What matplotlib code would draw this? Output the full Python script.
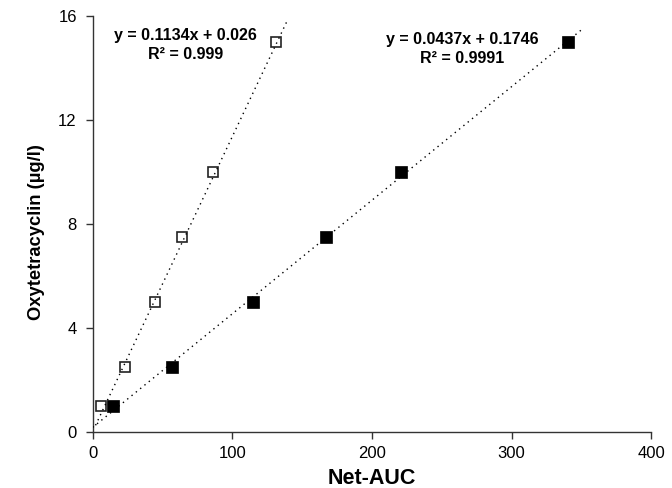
import matplotlib
matplotlib.use("Agg")
import matplotlib.pyplot as plt
import numpy as np

plt.rcParams['font.family'] = ['Liberation Sans', 'DejaVu Sans']

# open squares (series 1)
open_x = [5.7, 22.9, 44.4, 63.8, 86.0, 131.0]
open_y = [1.0, 2.5, 5.0, 7.5, 10.0, 15.0]
# filled squares (series 2)
fill_x = [14.3, 56.6, 114.7, 167.0, 220.8, 340.5]
fill_y = [1.0, 2.5, 5.0, 7.5, 10.0, 15.0]

# trend lines: slope, intercept, x-range
open_fit = (0.1134, 0.026, 2.0, 139.0)
fill_fit = (0.0437, 0.1746, 0.0, 350.0)

fig = plt.figure(figsize=(6.72, 4.88), dpi=100)
ax = fig.add_axes([0.138, 0.115, 0.831, 0.852])

ax.plot(open_x, open_y, linestyle='none', marker='s', markersize=7,
        markerfacecolor='white', markeredgecolor='#222222', markeredgewidth=1.2, zorder=3)
ax.plot(fill_x, fill_y, linestyle='none', marker='s', markersize=8.3,
        markerfacecolor='black', markeredgecolor='black', markeredgewidth=0.5, zorder=3)

# excel draws the trend lines over the markers
for slope, icpt, x0, x1 in (open_fit, fill_fit):
    xs = np.array([x0, x1])
    ax.plot(xs, slope * xs + icpt, color='black', lw=1.0, linestyle=(0, (1, 3)), zorder=4)

ax.text(66.4, 14.9, 'y = 0.1134x + 0.026\nR² = 0.999', ha='center', va='center',
        fontsize=11.5, fontweight='bold', linespacing=1.35)
ax.text(264.9, 14.73, 'y = 0.0437x + 0.1746\nR² = 0.9991', ha='center', va='center',
        fontsize=11.5, fontweight='bold', linespacing=1.35)

ax.set_xlim(0, 400)
ax.set_ylim(0, 16)
ax.set_xticks([0, 100, 200, 300, 400])
ax.set_yticks([0, 4, 8, 12, 16])
ax.spines['top'].set_visible(False)
ax.spines['right'].set_visible(False)
for s in ('left', 'bottom'):
    ax.spines[s].set_color('#333333')
    ax.spines[s].set_linewidth(1.0)
ax.tick_params(direction='out', length=5, width=1, color='#333333', labelsize=12)
ax.tick_params(axis='x', pad=5)
ax.tick_params(axis='y', pad=6.5)

ax.set_xlabel('Net-AUC', fontsize=15.5, fontweight='bold')
ax.set_ylabel('Oxytetracyclin (µg/l)', fontsize=13.2, fontweight='bold')
ax.xaxis.set_label_coords(0.5, -0.088)
ax.yaxis.set_label_coords(-0.086, 0.48)

fig.savefig('out.png', dpi=100)
